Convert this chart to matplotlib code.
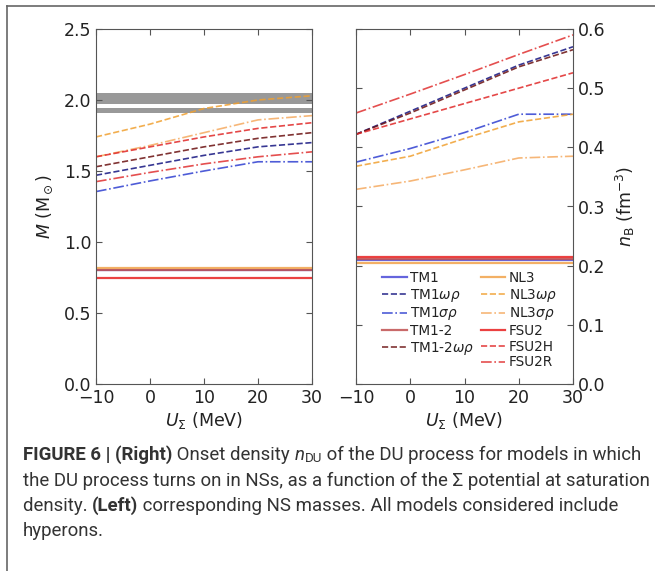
import matplotlib
matplotlib.use('Agg')
import matplotlib.pyplot as plt
from matplotlib.lines import Line2D

# U_Sigma potential (MeV)
u_sigma = [-10, 0, 10, 20, 30]

# NS mass at DU onset (left panel)
m_tm1 = [0.80, 0.80, 0.80, 0.80, 0.80]
m_tm1_wr = [1.47, 1.54, 1.61, 1.67, 1.70]
m_tm1_sr = [1.355, 1.43, 1.50, 1.565, 1.565]
m_tm12 = [0.805, 0.805, 0.805, 0.805, 0.805]
m_tm12_wr = [1.53, 1.60, 1.67, 1.73, 1.77]
m_nl3 = [0.82, 0.82, 0.82, 0.82, 0.82]
m_nl3_wr = [1.74, 1.83, 1.94, 2.00, 2.03]
m_nl3_sr = [1.60, 1.68, 1.77, 1.86, 1.89]
m_fsu2 = [0.75, 0.75, 0.75, 0.75, 0.75]
m_fsu2h = [1.60, 1.67, 1.74, 1.80, 1.84]
m_fsu2r = [1.425, 1.49, 1.55, 1.60, 1.635]

# onset density n_DU (right panel), fm^-3
n_tm1 = [0.21, 0.21, 0.21, 0.21, 0.21]
n_tm1_wr = [0.422, 0.461, 0.500, 0.539, 0.570]
n_tm1_sr = [0.375, 0.398, 0.425, 0.456, 0.456]
n_tm12 = [0.211, 0.211, 0.211, 0.211, 0.211]
n_tm12_wr = [0.422, 0.458, 0.497, 0.536, 0.565]
n_nl3 = [0.205, 0.205, 0.205, 0.205, 0.205]
n_nl3_wr = [0.368, 0.385, 0.415, 0.443, 0.456]
n_nl3_sr = [0.329, 0.343, 0.362, 0.382, 0.385]
n_fsu2 = [0.215, 0.215, 0.215, 0.215, 0.215]
n_fsu2h = [0.422, 0.448, 0.474, 0.500, 0.526]
n_fsu2r = [0.458, 0.490, 0.523, 0.557, 0.590]

# observed 2 Msun pulsar bands
band_1 = (1.97, 2.05)
band_2 = (1.91, 1.945)

labels = ['TM1', r'TM1$\omega\rho$', r'TM1$\sigma\rho$', 'TM1-2', r'TM1-2$\omega\rho$',
          'NL3', r'NL3$\omega\rho$', r'NL3$\sigma\rho$', 'FSU2', 'FSU2H', 'FSU2R']
masses = [m_tm1, m_tm1_wr, m_tm1_sr, m_tm12, m_tm12_wr,
          m_nl3, m_nl3_wr, m_nl3_sr, m_fsu2, m_fsu2h, m_fsu2r]
densities = [n_tm1, n_tm1_wr, n_tm1_sr, n_tm12, n_tm12_wr,
             n_nl3, n_nl3_wr, n_nl3_sr, n_fsu2, n_fsu2h, n_fsu2r]
colors = ['#4a4ad8', '#141480', '#2f3fd0', '#c05050', '#6a0f0f',
          '#f2a24a', '#f0a030', '#f5aa60', '#e82020', '#e02828', '#e03030']
styles = ['-', '--', '-.', '-', '--', '-', '--', '-.', '-', '--', '-.']
widths = [1.6, 1.2, 1.2, 1.6, 1.2, 1.6, 1.2, 1.2, 1.6, 1.2, 1.2]

plt.rcParams['xtick.direction'] = 'in'
plt.rcParams['ytick.direction'] = 'in'
plt.rcParams['axes.edgecolor'] = '#555555'

fig = plt.figure(figsize=(6.55, 5.71), dpi=100)
ax1 = fig.add_axes([96/655, 1-384/571, 216/655, 355/571])
ax2 = fig.add_axes([356/655, 1-384/571, 217/655, 355/571])

ax1.axhspan(*band_1, color='#999999', lw=0)
ax1.axhspan(*band_2, color='#999999', lw=0)
for m, c, s, w in zip(masses, colors, styles, widths):
    ax1.plot(u_sigma, m, color=c, ls=s, lw=w, alpha=0.85)
for n, c, s, w, lab in zip(densities, colors, styles, widths, labels):
    ax2.plot(u_sigma, n, color=c, ls=s, lw=w, alpha=0.85, label=lab)

for ax in (ax1, ax2):
    ax.set_xlim(-10, 30)
    ax.set_xticks([-10, 0, 10, 20, 30])
    ax.tick_params(top=True, right=True, left=True, labelsize=12.5,
                   length=4, color='#555555', labelcolor='#222222')
    ax.set_xlabel(r'$U_\Sigma$ (MeV)', fontsize=12.5, color='#222222', labelpad=2)

ax1.set_ylim(0, 2.5)
ax1.set_yticks([0.0, 0.5, 1.0, 1.5, 2.0, 2.5])
ax1.set_ylabel(r'$M$ (M$_\odot$)', fontsize=12.5, color='#222222', labelpad=6)

ax2.set_ylim(0, 0.6)
ax2.set_yticks([0.0, 0.1, 0.2, 0.3, 0.4, 0.5, 0.6])
ax2.yaxis.tick_right()
ax2.yaxis.set_label_position('right')
ax2.tick_params(left=True, labelleft=False, labelright=True)
ax2.set_ylabel(r'$n_{\rm B}$ (fm$^{-3}$)', fontsize=12.5, color='#222222', labelpad=6)

# legend: 5 entries in the first column, 6 in the second
h, l = ax2.get_legend_handles_labels()
blank = Line2D([], [], color='none')
h = h[:5] + [blank] + h[5:]
l = l[:5] + [''] + l[5:]
ax2.legend(h, l, ncol=2, frameon=False, fontsize=9.8, loc='upper left',
           bbox_to_anchor=(0.12, 0.318), borderaxespad=0, borderpad=0,
           handlelength=1.8, handletextpad=0.25, columnspacing=0.5,
           labelspacing=0.12, labelcolor='#222222')

# frame around figure + caption
fig.add_artist(Line2D([7/655, 1], [1-6/571, 1-6/571], color='#666666', lw=1.2))
fig.add_artist(Line2D([7/655, 7/655], [0, 1-6/571], color='#666666', lw=1.2))

cap_lines = [
    [('FIGURE 6 | (Right)', 'bold', 'normal'), (' Onset density ', 'normal', 'normal'),
     ('n', 'normal', 'italic'), ('DU', 'sub', 'normal'),
     (' of the DU process for models in which', 'normal', 'normal')],
    [('the DU process turns on in NSs, as a function of the \u03a3 potential at saturation', 'normal', 'normal')],
    [('density. ', 'normal', 'normal'), ('(Left)', 'bold', 'normal'),
     (' corresponding NS masses. All models considered include', 'normal', 'normal')],
    [('hyperons.', 'normal', 'normal')],
]
cap_y = [455, 481, 506, 531]
cap_fs = 13.4
renderer = fig.canvas.get_renderer()
for pieces, yy in zip(cap_lines, cap_y):
    x = 23
    for txt, kind, style in pieces:
        fs = cap_fs * 0.72 if kind == 'sub' else cap_fs
        dy = 4 if kind == 'sub' else 0
        t = fig.text(x/655, 1-(yy+dy)/571, txt, fontsize=fs, family='Roboto',
                     fontweight='bold' if kind == 'bold' else 'normal',
                     fontstyle=style, color='#333333', va='center')
        bb = t.get_window_extent(renderer)
        x += bb.width

fig.savefig('out.png', dpi=100)
